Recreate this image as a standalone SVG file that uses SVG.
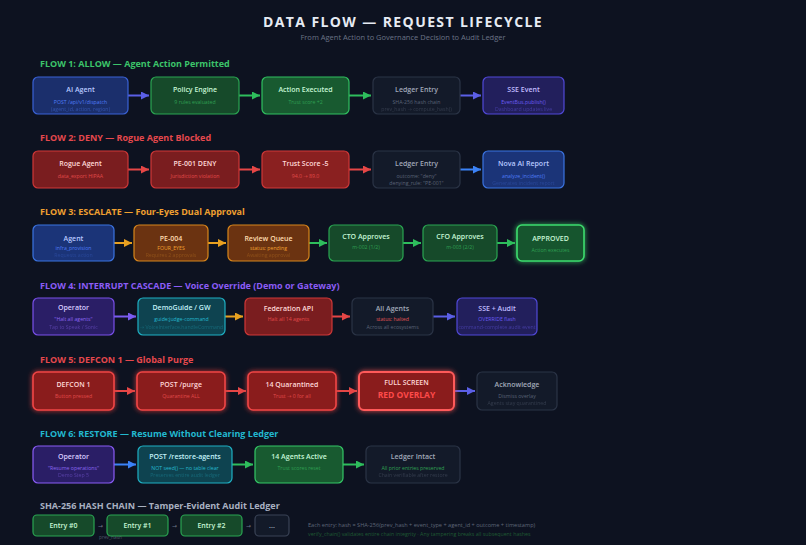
<svg xmlns="http://www.w3.org/2000/svg" width="806" height="545" viewBox="0 0 806 545">
<defs>
<style>
text{font-family:"Open Sans","Noto Sans","DejaVu Sans",sans-serif}
.t{font-size:7px;font-weight:600;text-anchor:middle}
.s{font-size:5.2px;text-anchor:middle}
.lbl{font-size:9px;font-weight:700}
rect{stroke-width:1.2}
.blue{fill:#1b2f6c;stroke:#3a62d6}
.blue2{fill:#1b3478;stroke:#3b74e2}
.green{fill:#164a2a;stroke:#2aa552}
.green2{fill:#185a30;stroke:#30c060}
.dark{fill:#131a29;stroke:#2b3446}
.indigo{fill:#221f5c;stroke:#5149d8}
.violet{fill:#2a1e66;stroke:#7a50ea}
.red{fill:#7a1d1f;stroke:#cf3838}
.red2{fill:#8a1c1d;stroke:#f04545;stroke-width:1.6}
.orange{fill:#6b3311;stroke:#d8861c}
.teal{fill:#0e4350;stroke:#1fb0c4}
.tb{fill:#b8c8ff}.sb{fill:#4f7cf7}
.tg{fill:#c6f6d5}.sg{fill:#2f9f52}
.td{fill:#a0a8b8}.sd{fill:#5a6376}
.ti{fill:#c0bcff}.si{fill:#6a5cf2}
.tv{fill:#d8ccff}.sv{fill:#8a66f0}
.tr{fill:#ffd8d8}.sr{fill:#e04a4a}
.to{fill:#ffdcae}.so{fill:#f0a030}
.tt{fill:#c2f1f8}.st{fill:#25b9cf}
.faint{opacity:.45}
line{stroke-width:2}
</style>
<marker id="mI" viewBox="0 0 10 10" refX="10" refY="5" markerWidth="8" markerHeight="8" markerUnits="userSpaceOnUse" orient="auto"><path d="M0,0L10,5L0,10z" fill="#5b5fe6"/></marker>
<marker id="mG" viewBox="0 0 10 10" refX="10" refY="5" markerWidth="8" markerHeight="8" markerUnits="userSpaceOnUse" orient="auto"><path d="M0,0L10,5L0,10z" fill="#2ebd5c"/></marker>
<marker id="mR" viewBox="0 0 10 10" refX="10" refY="5" markerWidth="8" markerHeight="8" markerUnits="userSpaceOnUse" orient="auto"><path d="M0,0L10,5L0,10z" fill="#e54646"/></marker>
<marker id="mB" viewBox="0 0 10 10" refX="10" refY="5" markerWidth="8" markerHeight="8" markerUnits="userSpaceOnUse" orient="auto"><path d="M0,0L10,5L0,10z" fill="#3b82f6"/></marker>
<marker id="mO" viewBox="0 0 10 10" refX="10" refY="5" markerWidth="8" markerHeight="8" markerUnits="userSpaceOnUse" orient="auto"><path d="M0,0L10,5L0,10z" fill="#e8a020"/></marker>
<marker id="mV" viewBox="0 0 10 10" refX="10" refY="5" markerWidth="8" markerHeight="8" markerUnits="userSpaceOnUse" orient="auto"><path d="M0,0L10,5L0,10z" fill="#7a5cf0"/></marker>
<filter id="glowR" x="-30%" y="-50%" width="160%" height="200%"><feGaussianBlur stdDeviation="2.5" result="b"/><feMerge><feMergeNode in="b"/><feMergeNode in="SourceGraphic"/></feMerge></filter>
</defs>
<rect x="0" y="0" width="806" height="545" fill="#0d1220" style="stroke:none"/>

<text x="403" y="27" text-anchor="middle" font-size="14" font-weight="700" letter-spacing="1.4" fill="#e6ebf3">DATA FLOW — REQUEST LIFECYCLE</text>
<text x="403" y="40" text-anchor="middle" font-size="7.5" fill="#6b7386">From Agent Action to Governance Decision to Audit Ledger</text>

<text class="lbl" x="40" y="67" fill="#3cc46a">FLOW 1: ALLOW — Agent Action Permitted</text>
<text class="lbl" x="40" y="141" fill="#e5484d">FLOW 2: DENY — Rogue Agent Blocked</text>
<text class="lbl" x="40" y="215" fill="#f0a030">FLOW 3: ESCALATE — Four-Eyes Dual Approval</text>
<text class="lbl" x="40" y="289" fill="#8b5cf6">FLOW 4: INTERRUPT CASCADE — Voice Override (Demo or Gateway)</text>
<text class="lbl" x="40" y="363" fill="#e5484d">FLOW 5: DEFCON 1 — Global Purge</text>
<text class="lbl" x="40" y="437" fill="#22b8cf">FLOW 6: RESTORE — Resume Without Clearing Ledger</text>
<text class="lbl" x="40" y="509" fill="#a8b0c0">SHA-256 HASH CHAIN — Tamper-Evident Audit Ledger</text>

<g id="connectors">
<line x1="128" y1="95.5" x2="149" y2="95.5" stroke="#5b5fe6" marker-end="url(#mI)"/>
<line x1="239" y1="95.5" x2="260" y2="95.5" stroke="#2ebd5c" marker-end="url(#mG)"/>
<line x1="349" y1="95.5" x2="371" y2="95.5" stroke="#2ebd5c" marker-end="url(#mG)"/>
<line x1="460" y1="95.5" x2="481" y2="95.5" stroke="#5b5fe6" marker-end="url(#mI)"/>

<line x1="128" y1="169.5" x2="149" y2="169.5" stroke="#e54646" marker-end="url(#mR)"/>
<line x1="239" y1="169.5" x2="260" y2="169.5" stroke="#e54646" marker-end="url(#mR)"/>
<line x1="349" y1="169.5" x2="371" y2="169.5" stroke="#e54646" marker-end="url(#mR)"/>
<line x1="460" y1="169.5" x2="481" y2="169.5" stroke="#3b82f6" marker-end="url(#mB)"/>

<line x1="114" y1="243" x2="132" y2="243" stroke="#e8a020" marker-end="url(#mO)"/>
<line x1="208" y1="243" x2="226" y2="243" stroke="#e8a020" marker-end="url(#mO)"/>
<line x1="309" y1="243" x2="327" y2="243" stroke="#2ebd5c" marker-end="url(#mG)"/>
<line x1="403" y1="243" x2="421" y2="243" stroke="#2ebd5c" marker-end="url(#mG)"/>
<line x1="497" y1="243" x2="515" y2="243" stroke="#2ebd5c" marker-end="url(#mG)"/>

<line x1="114" y1="316.5" x2="136" y2="316.5" stroke="#7a5cf0" marker-end="url(#mV)"/>
<line x1="225" y1="316.5" x2="243" y2="316.5" stroke="#e8a020" marker-end="url(#mO)"/>
<line x1="332" y1="316.5" x2="350" y2="316.5" stroke="#e54646" marker-end="url(#mR)"/>
<line x1="433" y1="316.5" x2="455" y2="316.5" stroke="#5b5fe6" marker-end="url(#mI)"/>

<line x1="114" y1="391" x2="135" y2="391" stroke="#e54646" marker-end="url(#mR)"/>
<line x1="225" y1="391" x2="246" y2="391" stroke="#e54646" marker-end="url(#mR)"/>
<line x1="336" y1="391" x2="357" y2="391" stroke="#e54646" marker-end="url(#mR)"/>
<line x1="454" y1="391" x2="475" y2="391" stroke="#5b5fe6" stroke-width="1.2" marker-end="url(#mI)"/>

<line x1="114" y1="464.5" x2="136" y2="464.5" stroke="#3b82f6" marker-end="url(#mB)"/>
<line x1="232" y1="464.5" x2="253" y2="464.5" stroke="#2ebd5c" marker-end="url(#mG)"/>
<line x1="343" y1="464.5" x2="364" y2="464.5" stroke="#2ebd5c" marker-end="url(#mG)"/>

<text x="100.5" y="527.5" text-anchor="middle" font-size="6" fill="#6b7386">→</text>
<text x="174.5" y="527.5" text-anchor="middle" font-size="6" fill="#6b7386">→</text>
<text x="248.5" y="527.5" text-anchor="middle" font-size="6" fill="#6b7386">→</text>
<text x="99" y="539" font-size="4.8" fill="#4f5768">prev_hash</text>
</g>

<!-- Flow 1 -->
<g id="f1-agent"><rect class="blue" x="33" y="77" width="95" height="37" rx="5"/><text class="t tb" x="80.5" y="92">AI Agent</text><text class="s sb" x="80.5" y="104">POST /api/v1/dispatch</text><text class="s sb faint" x="80.5" y="111">(agent_id, action, region)</text></g>
<g id="f1-policy"><rect class="green" x="151" y="77" width="88" height="37" rx="5"/><text class="t tg" x="195" y="92">Policy Engine</text><text class="s sg" x="195" y="104">9 rules evaluated</text></g>
<g id="f1-exec"><rect class="green2" x="262" y="77" width="87" height="37" rx="5"/><text class="t tg" x="305.5" y="92">Action Executed</text><text class="s sg" x="305.5" y="104">Trust score +2</text></g>
<g id="f1-ledger"><rect class="dark" x="373" y="77" width="87" height="37" rx="5"/><text class="t td" x="416.5" y="92">Ledger Entry</text><text class="s sd" x="416.5" y="104">SHA-256 hash chain</text><text class="s sd faint" x="416.5" y="111">prev_hash → compute_hash()</text></g>
<g id="f1-sse"><rect class="indigo" x="483" y="77" width="81" height="37" rx="5"/><text class="t ti" x="523.5" y="92">SSE Event</text><text class="s si" x="523.5" y="104">EventBus.publish()</text><text class="s si faint" x="523.5" y="111">Dashboard updates live</text></g>

<!-- Flow 2 -->
<g id="f2-rogue"><rect class="red" x="33" y="151" width="95" height="37" rx="5"/><text class="t tr" x="80.5" y="166">Rogue Agent</text><text class="s sr" x="80.5" y="178">data_export HIPAA</text></g>
<g id="f2-pe001"><rect class="red" x="151" y="151" width="88" height="37" rx="5"/><text class="t tr" x="195" y="166">PE-001 DENY</text><text class="s sr" x="195" y="178">Jurisdiction violation</text></g>
<g id="f2-trust"><rect class="red" x="262" y="151" width="87" height="37" rx="5" style="fill:#8a2020"/><text class="t tr" x="305.5" y="166">Trust Score -5</text><text class="s sr" x="305.5" y="178">94.0 → 89.0</text></g>
<g id="f2-ledger"><rect class="dark" x="373" y="151" width="87" height="37" rx="5"/><text class="t td" x="416.5" y="166">Ledger Entry</text><text class="s sd" x="416.5" y="178">outcome: "deny"</text><text class="s sd" x="416.5" y="185">denying_rule: "PE-001"</text></g>
<g id="f2-nova"><rect class="blue2" x="483" y="151" width="81" height="37" rx="5"/><text class="t tb" x="523.5" y="166">Nova AI Report</text><text class="s sb" x="523.5" y="178">analyze_incident()</text><text class="s sb" x="523.5" y="185" opacity="0.25">Generates incident report</text></g>

<!-- Flow 3 -->
<g id="f3-agent"><rect class="blue2" x="33" y="225" width="81" height="36" rx="5"/><text class="t tb" x="73.5" y="241">Agent</text><text class="s sb" x="73.5" y="250">infra_provision</text><text class="s sb" x="73.5" y="257" opacity="0.25">Requests action</text></g>
<g id="f3-pe004"><rect class="orange" x="134" y="225" width="74" height="36" rx="5"/><text class="t to" x="171" y="241">PE-004</text><text class="s so" x="171" y="250">FOUR_EYES</text><text class="s so" x="171" y="257" opacity="0.25">Requires 2 approvals</text></g>
<g id="f3-queue"><rect class="orange" x="228" y="225" width="81" height="36" rx="5"/><text class="t to" x="268.5" y="241">Review Queue</text><text class="s so" x="268.5" y="250">status: pending</text><text class="s so" x="268.5" y="257" opacity="0.25">Awaiting approval</text></g>
<g id="f3-cto"><rect class="green" x="329" y="225" width="74" height="36" rx="5"/><text class="t tg" x="366" y="239">CTO Approves</text><text class="s sg" x="366" y="249">m-002 (1/2)</text></g>
<g id="f3-cfo"><rect class="green" x="423" y="225" width="74" height="36" rx="5"/><text class="t tg" x="460" y="239">CFO Approves</text><text class="s sg" x="460" y="249">m-003 (2/2)</text></g>
<g id="f3-approved"><rect x="517" y="225" width="67" height="36" rx="5" filter="url(#glowR)" style="fill:#17542d;stroke:#3ddc6e;stroke-width:1.6"/><text class="t tg" x="550.5" y="241" font-size="7.5" font-weight="700">APPROVED</text><text class="s sg" x="550.5" y="252">Action executes</text></g>

<!-- Flow 4 -->
<g id="f4-operator"><rect class="violet" x="33" y="298" width="81" height="37" rx="5"/><text class="t tv" x="73.5" y="310">Operator</text><text class="s sv" x="73.5" y="321">"Halt all agents"</text><text class="s sv faint" x="73.5" y="329">Tap to Speak / Sonic</text></g>
<g id="f4-demoguide"><rect class="teal" x="138" y="298" width="87" height="37" rx="5"/><text class="t tt" x="181.5" y="310">DemoGuide / GW</text><text class="s st" x="181.5" y="321">guide:judge-command</text><text class="s st" x="181.5" y="329" opacity="0.3">→ VoiceInterface.handleCommand</text></g>
<g id="f4-federation"><rect class="red" x="245" y="298" width="87" height="37" rx="5"/><text class="t tr" x="288.5" y="311">Federation API</text><text class="s sr" x="288.5" y="321">Halt all 14 agents</text></g>
<g id="f4-allagents"><rect class="dark" x="352" y="298" width="81" height="37" rx="5"/><text class="t td" x="392.5" y="311">All Agents</text><text class="s" x="392.5" y="321" fill="#e05555">status: halted</text><text class="s sd" x="392.5" y="329">Across all ecosystems</text></g>
<g id="f4-sse"><rect class="indigo" x="457" y="298" width="80" height="37" rx="5"/><text class="t ti" x="497" y="311">SSE + Audit</text><text class="s si" x="497" y="321">OVERRIDE flash</text><text class="s si faint" x="497" y="329">command-complete audit event</text></g>

<!-- Flow 5 -->
<g id="f5-defcon"><rect class="red2" x="33" y="372" width="81" height="38" rx="5" filter="url(#glowR)"/><text class="t tr" x="73.5" y="387">DEFCON 1</text><text class="s sr" x="73.5" y="398">Button pressed</text></g>
<g id="f5-purge"><rect class="red2" x="137" y="372" width="88" height="38" rx="5" filter="url(#glowR)"/><text class="t tr" x="181" y="387">POST /purge</text><text class="s sr" x="181" y="398">Quarantine ALL</text></g>
<g id="f5-quarantined"><rect class="red2" x="248" y="372" width="88" height="38" rx="5" filter="url(#glowR)"/><text class="t tr" x="292" y="387">14 Quarantined</text><text class="s sr" x="292" y="398">Trust → 0 for all</text></g>
<g id="f5-fullscreen"><rect class="red2" x="359" y="372" width="95" height="38" rx="5" filter="url(#glowR)" style="stroke:#ff5a5a;stroke-width:2"/><text class="t tr" x="406.5" y="385">FULL SCREEN</text><text x="406.5" y="397.5" text-anchor="middle" font-size="8.5" font-weight="700" fill="#ff4a4a">RED OVERLAY</text></g>
<g id="f5-ack"><rect class="dark" x="477" y="372" width="80" height="38" rx="5"/><text class="t td" x="517" y="387">Acknowledge</text><text class="s sd" x="517" y="398">Dismiss overlay</text><text class="s sd faint" x="517" y="405">Agents stay quarantined</text></g>

<!-- Flow 6 -->
<g id="f6-operator"><rect class="violet" x="33" y="446" width="81" height="37" rx="5" style="stroke:#8a5cf6"/><text class="t tv" x="73.5" y="459">Operator</text><text class="s sv" x="73.5" y="470">"Resume operations"</text><text class="s sv faint" x="73.5" y="477">Demo Step 5</text></g>
<g id="f6-restore"><rect class="teal" x="138" y="446" width="94" height="37" rx="5"/><text class="t tt" x="185" y="459">POST /restore-agents</text><text class="s st" x="185" y="470">NOT seed() — no table clear</text><text class="s st" x="185" y="477" opacity="0.3">Preserves entire audit ledger</text></g>
<g id="f6-active"><rect class="green2" x="255" y="446" width="88" height="37" rx="5" style="stroke:#34c766"/><text class="t tg" x="299" y="459">14 Agents Active</text><text class="s sg" x="299" y="470">Trust scores reset</text></g>
<g id="f6-ledger"><rect class="dark" x="366" y="446" width="94" height="37" rx="5"/><text class="t td" x="413" y="459">Ledger Intact</text><text class="s" x="413" y="470" fill="#2fa052">All prior entries preserved</text><text class="s sd faint" x="413" y="477">Chain verifiable after restore</text></g>

<!-- Hash chain -->
<g id="h-entry0"><rect class="green" x="33" y="515" width="61" height="21" rx="4"/><text class="t tg" x="63.5" y="528" font-size="6.2">Entry #0</text></g>
<g id="h-entry1"><rect class="green" x="107" y="515" width="61" height="21" rx="4"/><text class="t tg" x="137.5" y="528" font-size="6.2">Entry #1</text></g>
<g id="h-entry2"><rect class="green" x="181" y="515" width="61" height="21" rx="4"/><text class="t tg" x="211.5" y="528" font-size="6.2">Entry #2</text></g>
<g id="h-more"><rect class="dark" x="255" y="515" width="34" height="21" rx="4" style="stroke:#3a4356"/><text class="t td" x="272" y="528" font-size="6">...</text></g>
<g id="h-note"><text x="308" y="527" font-size="5.6" fill="#5f6778">Each entry: hash = SHA-256(prev_hash + event_type + agent_id + outcome + timestamp)</text><text x="308" y="536" font-size="5.3" fill="#1f5a33">verify_chain() validates entire chain integrity · Any tampering breaks all subsequent hashes</text></g>
</svg>
